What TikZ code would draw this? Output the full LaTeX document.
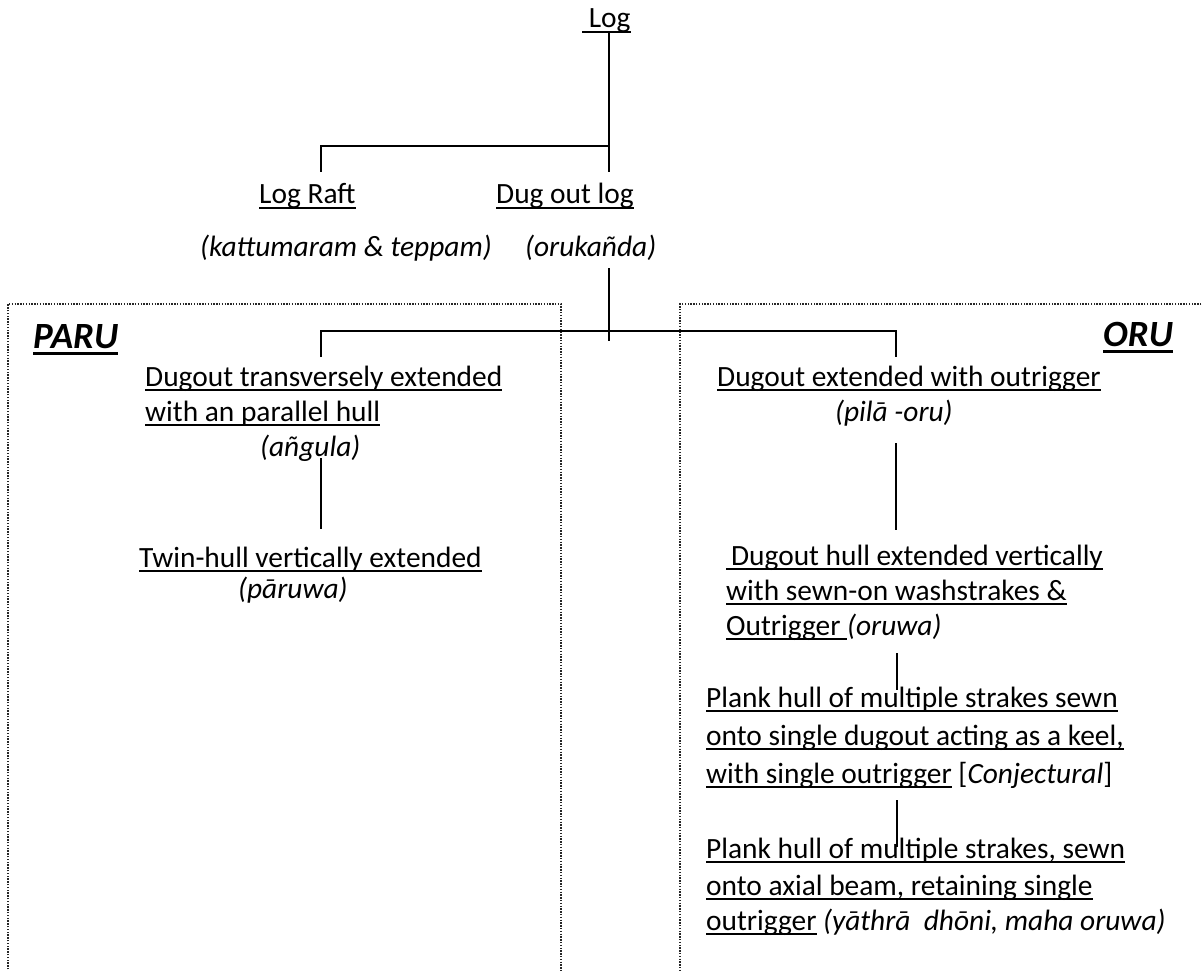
\documentclass[tikz,border=0pt]{standalone}
\usepackage{fontspec}
\setmainfont{Carlito}
\newcommand\ulx[1]{\setbox0\hbox{#1}\rlap{\rule[-5pt]{\wd0}{1.8pt}}\box0\relax}
\newcommand\ulbig[1]{\setbox0\hbox{#1}\rlap{\rule[-7pt]{\wd0}{3.5pt}}\box0\relax}
\tikzset{
  txt/.style={anchor=base west, inner sep=0pt, font=\fontsize{29.4}{35}\selectfont},
  big/.style={anchor=base west, inner sep=0pt, font=\fontsize{37}{44}\selectfont\bfseries\itshape},
  conn/.style={line width=1.8pt, black},
  frame/.style={line width=1.4pt, black!85, dash pattern=on 1.4pt off 1.4pt}
}
\begin{document}
\begin{tikzpicture}[x=1pt,y=-1pt]
\useasboundingbox (0,0) rectangle (1203,971);
% frames
\draw[frame] (8,975) -- (8,304) -- (561,304) -- (561,975);
\draw[frame] (1207,304) -- (680,304) -- (680,975);
% text
\node[txt] (log) at (582,28) {\ulx{\ Log}};
\node[txt] (raft) at (259,204) {\ulx{Log Raft}};
\node[txt] (dug) at (496,204) {\ulx{Dug out log}};
\node[txt] (raftn) at (200,256) {\itshape (kattumaram \& teppam)};
\node[txt] (dugn) at (525,256) {\itshape (orukañda)};
\node[big] (paru) at (33,348) {\ulbig{PARU}};
\node[big] (oru) at (1103,346) {\ulbig{ORU}};
\node[txt] (pa1) at (145,386) {\ulx{Dugout transversely extended}};
\node[txt] (pa2) at (145,421) {\ulx{with an parallel hull}};
\node[txt] (pa3) at (260,456) {\itshape (añgula)};
\node[txt] (tw1) at (139,567) {\ulx{Twin-hull vertically extended}};
\node[txt] (tw2) at (238,598) {\itshape (pāruwa)};
\node[txt] (or1) at (717,386) {\ulx{Dugout extended with outrigger}};
\node[txt] (or2) at (835,421) {\itshape (pilā -oru)};
\node[txt] (dh1) at (726,565) {\ulx{\,Dugout hull extended vertically}};
\node[txt] (dh2) at (726,600) {\ulx{with sewn-on washstrakes \&}};
\node[txt] (dh3) at (726,635) {\ulx{Outrigger }\textit{(oruwa)}};
\node[txt] (pk1) at (706,707) {\ulx{Plank hull of multiple strakes sewn}};
\node[txt] (pk2) at (706,745) {\ulx{onto single dugout acting as a keel,}};
\node[txt] (pk3) at (706,783) {\ulx{with single outrigger} [\textit{Conjectural}]};
\node[txt] (ax1) at (706,858) {\ulx{Plank hull of multiple strakes, sewn}};
\node[txt] (ax2) at (706,895) {\ulx{onto axial beam, retaining single}};
\node[txt] (ax3) at (706,930) {\ulx{outrigger} \textit{(yāthrā\ \ dhōni, maha oruwa)}};
% connector points
\coordinate (logd) at (609,32);
\coordinate (j1) at (609,146);
\coordinate (rafttop) at (321,172);
\coordinate (dugtop) at (609,172);
\coordinate (dugd) at (609,268);
\coordinate (j2) at (609,331);
\coordinate (j2e) at (609,341);
\coordinate (pa1top) at (321,357);
\coordinate (or1top) at (896,357);
\coordinate (pa3d) at (321,458);
\coordinate (tw1top) at (321,529);
\coordinate (or2d) at (896,443);
\coordinate (dh1top) at (896,530);
\coordinate (dh3d) at (897,653);
\coordinate (pk1top) at (897,690);
\coordinate (pk3d) at (897,800);
\coordinate (ax1top) at (897,847);
% connectors
\draw[conn] (logd) -- (dugtop);
\draw[conn] (j1) -| (rafttop);
\draw[conn] (dugd) -- (j2e);
\draw[conn] (pa1top) |- (j2) -| (or1top);
\draw[conn] (pa3d) -- (tw1top);
\draw[conn] (or2d) -- (dh1top);
\draw[conn] (dh3d) -- (pk1top);
\draw[conn] (pk3d) -- (ax1top);
\end{tikzpicture}
\end{document}
